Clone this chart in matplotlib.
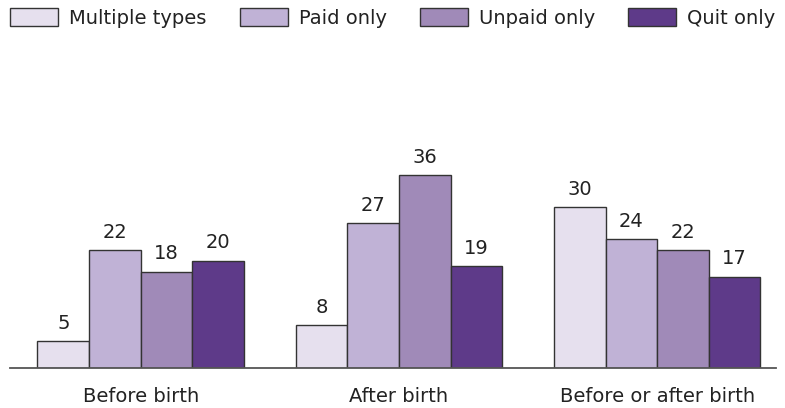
import matplotlib.pyplot as plt
import numpy as np

plt.rcParams['font.family'] = ['DejaVu Sans']

# Chart data
groups = ["Before birth", "After birth", "Before or after birth"]
series = ["Multiple types", "Paid only", "Unpaid only", "Quit only"]
values = {
    "Multiple types": [5, 8, 30],
    "Paid only": [22, 27, 24],
    "Unpaid only": [18, 36, 22],
    "Quit only": [20, 19, 17],
}
colors = ["#E6E0EE", "#C0B2D6", "#A08AB8", "#5E3A89"]

fig = plt.figure(figsize=(7.85, 4.08), dpi=100)
ax = fig.add_axes([0, 40 / 408, 1, 308 / 408])

x = np.arange(len(groups))
width = 0.2
for i, name in enumerate(series):
    pos = x + (i - 1.5) * width
    bars = ax.bar(pos, values[name], width, color=colors[i], edgecolor="#333333",
                  linewidth=1.0, label=name, zorder=2)
    for b, v in zip(bars, values[name]):
        ax.text(b.get_x() + b.get_width() / 2, v + 1.6, str(v), ha="center", va="bottom",
                fontsize=14, color="#222222")

# axis geometry
ax.set_xlim(-0.545, 2.495)
ax.set_ylim(0, 57.5)
for s in ["top", "right", "left"]:
    ax.spines[s].set_visible(False)
ax.spines["bottom"].set_color("#555555")
ax.spines["bottom"].set_linewidth(1.3)
ax.spines["bottom"].set_bounds(-0.506, 2.46)
ax.set_yticks([])
ax.set_xticks(x)
ax.set_xticklabels(groups, fontsize=14, color="#222222")
ax.tick_params(axis="x", length=0, pad=13.5)
ax.patch.set_alpha(0)

fig.legend(loc="upper left", bbox_to_anchor=(10 / 785, 1 - 8 / 408), ncol=4, frameon=False,
           fontsize=14, handlelength=2.47, handleheight=1.03, handletextpad=0.57,
           columnspacing=1.7, borderaxespad=0, borderpad=0, labelcolor="#222222")

fig.savefig("out.png", dpi=100)
